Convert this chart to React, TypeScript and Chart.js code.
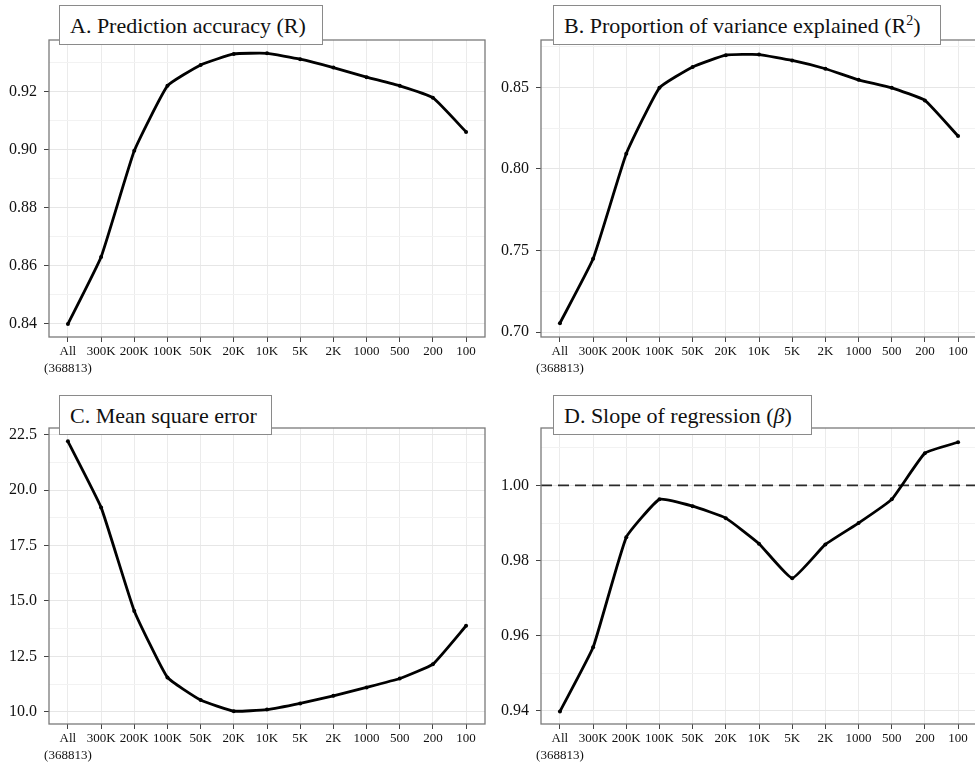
import React, { useEffect, useRef } from 'react';
import { Chart, registerables } from 'chart.js';

Chart.register(...registerables);

// ---------- data ----------
const CATEGORIES = ['All', '300K', '200K', '100K', '50K', '20K', '10K', '5K', '2K', '1000', '500', '200', '100'];
const ALL_SUBLABEL = '(368813)';

const R_VALUES = [0.8398, 0.8629, 0.8995, 0.9219, 0.9291, 0.9329, 0.9331, 0.9311, 0.9282, 0.9249, 0.9219, 0.9178, 0.906];
const R2_VALUES = [0.7055, 0.7449, 0.8093, 0.8497, 0.8625, 0.8697, 0.8701, 0.8665, 0.8614, 0.8546, 0.8497, 0.842, 0.8201];
const MSE_VALUES = [22.2, 19.22, 14.55, 11.55, 10.53, 10.03, 10.1, 10.38, 10.72, 11.1, 11.5, 12.15, 13.88];
const BETA_VALUES = [0.9398, 0.9569, 0.9862, 0.9963, 0.9945, 0.9913, 0.9845, 0.9753, 0.9843, 0.99, 0.9963, 1.0086, 1.0115];

const R_TICKS = [0.84, 0.86, 0.88, 0.9, 0.92];
const R2_TICKS = [0.7, 0.75, 0.8, 0.85];
const MSE_TICKS = [10, 12.5, 15, 17.5, 20, 22.5];
const BETA_TICKS = [0.94, 0.96, 0.98, 1.0];

const BETA_REFERENCE = 1.0;

const FONT = '"Liberation Serif", "Times New Roman", serif';

type Spec = {
  left: number;
  top: number;
  width: number;
  height: number;
  padTop: number;
  padRight: number;
  yWidth: number;
  xHeight: number;
  values: number[];
  ticks: number[];
  yMin: number;
  yMax: number;
  decimals: number;
  refLine?: number;
};

const X_MIN = -0.57;
const X_MAX = 12.57;

function buildMinor(major: number[], yMax: number): number[] {
  const step = major[1] - major[0];
  const out: number[] = [];
  for (let i = 0; i < major.length; i++) {
    const m = major[i] + step / 2;
    if (m <= yMax) out.push(m);
  }
  return out;
}

function Panel({ spec }: { spec: Spec }) {
  const ref = useRef<HTMLCanvasElement>(null);
  useEffect(() => {
    const canvas = ref.current;
    if (!canvas) return;
    const minor = buildMinor(spec.ticks, spec.yMax);
    const yAll = [...spec.ticks, ...minor].sort((a, b) => a - b);
    const isMajor = (v: number) => spec.ticks.some((m) => Math.abs(m - v) < 1e-9);

    const boxPlugin = {
      id: 'boxPlugin',
      beforeDatasetsDraw(chart: any) {
        const { ctx, chartArea } = chart;
        if (spec.refLine !== undefined) {
          const y = chart.scales.y.getPixelForValue(spec.refLine);
          ctx.save();
          ctx.strokeStyle = '#2a2a2a';
          ctx.lineWidth = 1.8;
          ctx.setLineDash([11, 6]);
          ctx.beginPath();
          ctx.moveTo(chartArea.left, y);
          ctx.lineTo(chartArea.right, y);
          ctx.stroke();
          ctx.restore();
        }
      },
      afterDraw(chart: any) {
        const { ctx, chartArea } = chart;
        ctx.save();
        ctx.strokeStyle = '#7a7a7a';
        ctx.lineWidth = 1.3;
        ctx.strokeRect(chartArea.left, chartArea.top, chartArea.right - chartArea.left, chartArea.bottom - chartArea.top);
        ctx.restore();
      },
    };

    const chart = new Chart(canvas, {
      type: 'line',
      data: {
        datasets: [
          {
            data: spec.values.map((v, i) => ({ x: i, y: v })),
            borderColor: '#000000',
            backgroundColor: '#000000',
            borderWidth: 2.8,
            pointRadius: 2,
            pointBorderWidth: 0,
            pointBackgroundColor: '#000000',
            tension: 0.12,
          },
        ],
      },
      options: {
        responsive: false,
        animation: false,
        devicePixelRatio: 1,
        layout: { padding: { top: spec.padTop, right: spec.padRight, left: 0, bottom: 0 } },
        plugins: { legend: { display: false }, tooltip: { enabled: false }, title: { display: false } },
        scales: {
          x: {
            type: 'linear',
            min: X_MIN,
            max: X_MAX,
            afterBuildTicks: (s: any) => {
              s.ticks = CATEGORIES.map((_, i) => ({ value: i }));
            },
            afterFit: (s: any) => {
              s.height = spec.xHeight;
            },
            ticks: {
              autoSkip: false,
              maxRotation: 0,
              minRotation: 0,
              padding: 1,
              color: '#111111',
              font: { family: FONT, size: 13, lineHeight: 1.3 },
              callback: (v: any) => {
                const i = Math.round(Number(v));
                return i === 0 ? [CATEGORIES[0], ALL_SUBLABEL] : CATEGORIES[i];
              },
            },
            grid: { color: '#ebebeb', lineWidth: 1, tickLength: 5, tickColor: '#444444' },
            border: { display: false },
          },
          y: {
            type: 'linear',
            min: spec.yMin,
            max: spec.yMax,
            afterBuildTicks: (s: any) => {
              s.ticks = yAll.map((v) => ({ value: v }));
            },
            afterFit: (s: any) => {
              s.width = spec.yWidth;
            },
            ticks: {
              padding: 7,
              color: '#111111',
              font: { family: FONT, size: 16 },
              callback: (v: any) => (isMajor(Number(v)) ? Number(v).toFixed(spec.decimals) : ''),
            },
            grid: {
              color: (c: any) => (c.tick && isMajor(c.tick.value) ? '#e6e6e6' : '#f2f2f2'),
              tickColor: (c: any) => (c.tick && isMajor(c.tick.value) ? '#444444' : 'rgba(0,0,0,0)'),
              lineWidth: 1,
              tickLength: 5,
            },
            border: { display: false },
          },
        },
      } as any,
      plugins: [boxPlugin],
    });
    return () => chart.destroy();
  }, [spec]);

  return (
    <canvas
      ref={ref}
      width={spec.width}
      height={spec.height}
      style={{ position: 'absolute', left: spec.left, top: spec.top, width: spec.width, height: spec.height }}
    />
  );
}

const boxStyle = (left: number, top: number, width: number): React.CSSProperties => ({
  position: 'absolute',
  left,
  top,
  width,
  height: 40,
  boxSizing: 'border-box',
  border: '1px solid #8a8a8a',
  background: '#ffffff',
  fontFamily: FONT,
  fontSize: 22,
  lineHeight: '36px',
  paddingTop: 2,
  paddingLeft: 10,
  color: '#111111',
  whiteSpace: 'nowrap',
});

const SPECS: Spec[] = [
  { left: 0, top: 0, width: 490, height: 385, padTop: 40, padRight: 5, yWidth: 49, xHeight: 48, values: R_VALUES, ticks: R_TICKS, yMin: 0.8353, yMax: 0.9377, decimals: 2 },
  { left: 490, top: 0, width: 500, height: 385, padTop: 40, padRight: 13, yWidth: 51, xHeight: 48, values: R2_VALUES, ticks: R2_TICKS, yMin: 0.697, yMax: 0.879, decimals: 2 },
  { left: 0, top: 385, width: 490, height: 385, padTop: 43, padRight: 5, yWidth: 49, xHeight: 46, values: MSE_VALUES, ticks: MSE_TICKS, yMin: 9.45, yMax: 22.8, decimals: 1 },
  { left: 490, top: 385, width: 500, height: 385, padTop: 43, padRight: 13, yWidth: 51, xHeight: 46, values: BETA_VALUES, ticks: BETA_TICKS, yMin: 0.9365, yMax: 1.0153, decimals: 2, refLine: BETA_REFERENCE },
];

export default function App() {
  return (
    <div style={{ position: 'fixed', left: 0, top: 0, width: 975, height: 770, overflow: 'hidden', background: '#ffffff' }}>
      {SPECS.map((s, i) => (
        <Panel key={i} spec={s} />
      ))}
      <div style={boxStyle(59, 5, 264)}>A. Prediction accuracy (R)</div>
      <div style={boxStyle(553, 5, 388)}>
        B. Proportion of variance explained (R<sup style={{ fontSize: 14, lineHeight: 0 }}>2</sup>)
      </div>
      <div style={boxStyle(59, 395, 213)}>C. Mean square error</div>
      <div style={boxStyle(553, 395, 259)}>
        D. Slope of regression (<i>β</i>)
      </div>
    </div>
  );
}
